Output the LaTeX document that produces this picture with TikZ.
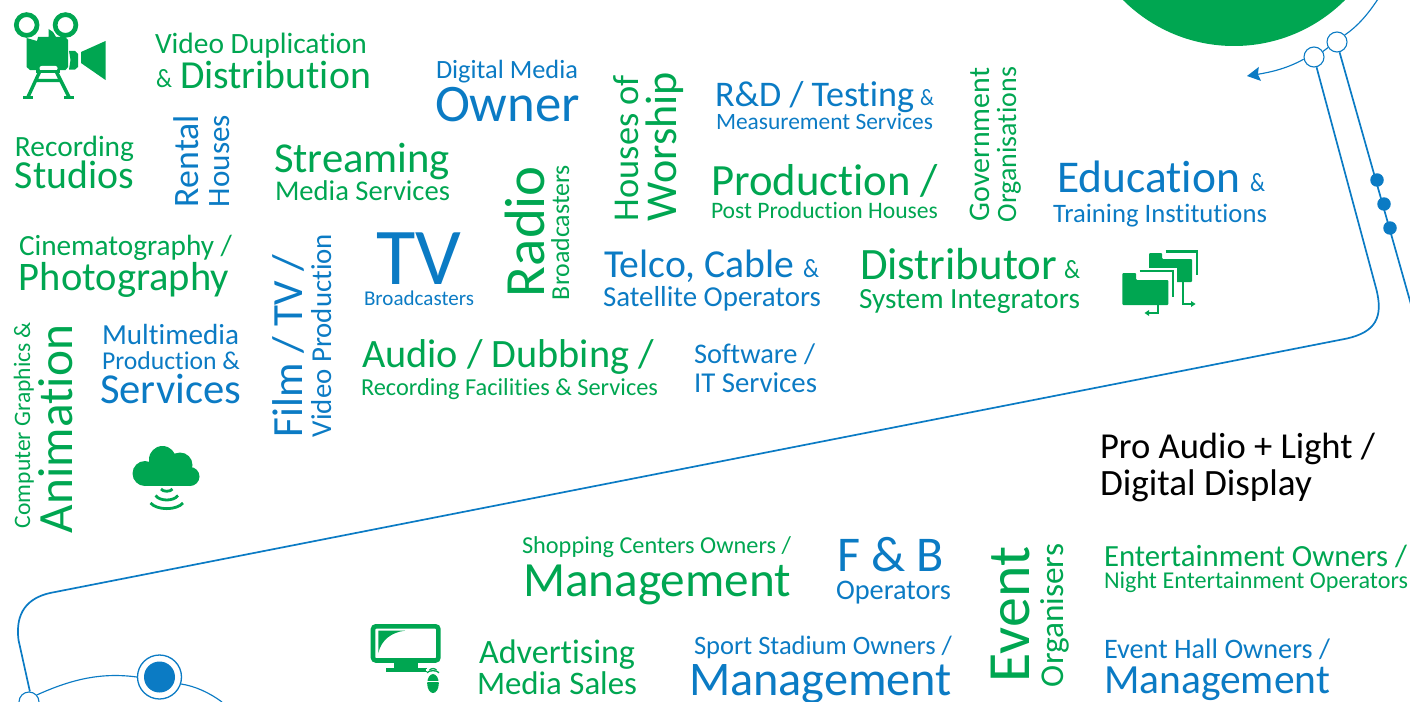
\documentclass[tikz,border=0pt]{standalone}
\usepackage{fontspec}
\usepackage{graphicx}
\setmainfont[Ligatures=NoCommon]{Carlito}
\usetikzlibrary{arrows.meta}
\definecolor{gr}{HTML}{00A651}
\definecolor{bl}{HTML}{0B7BC4}
\newcommand\wt[2]{\resizebox{#1pt}{!}{\fontsize{20}{24}\selectfont #2}}
\newcommand\amp[2]{\resizebox{#1pt}{#2pt}{\fontsize{20}{24}\selectfont \&}}
\tikzset{
 tx/.style={inner sep=0pt,outer sep=0pt,anchor=base west},
 g/.style={tx,text=gr},
 b/.style={tx,text=bl},
 k/.style={tx,text=black},
 up/.style={rotate=90},
 pl/.style={draw=bl,line width=1.7pt},
 thin line/.style={draw=bl,line width=1.15pt},
 hole/.style={circle,draw=bl,fill=white,line width=1.1pt,minimum size=20pt,inner sep=0pt},
 dot/.style={circle,fill=bl,minimum size=13.5pt,inner sep=0pt},
 ic/.style={fill=gr,draw=none},
 icl/.style={draw=gr,line width=2.4pt,fill=none},
}
\begin{document}
\begin{tikzpicture}[x=1pt,y=-1pt]
\useasboundingbox (0,0) rectangle (1410,701);
\clip (0,0) rectangle (1410,701);
% green disc
\node[circle,fill=gr,minimum size=314pt,inner sep=0pt] (disc) at (1234,-111) {};
% connectors and hubs
\node[hole] (c1) at (1314,57) {};
\node[hole] (c2) at (1337,42) {};
\node[hole] (c3) at (29,702) {};
\node[circle,draw=bl,fill=white,line width=1.3pt,minimum size=44pt,inner sep=0pt] (c4) at (159.5,677) {};
\node[dot,minimum size=31pt] (c4i) at (159.5,677) {};
\coordinate (e1) at (1378,-1);
\coordinate (e2) at (1412,308);
\coordinate (e3) at (1247,76);
\coordinate (e4) at (222,702);
\draw[pl] (c1.-76) -- (1376,288) .. controls (1384,318) and (1375,332) .. (1347,338.5) -- (50,593) .. controls (28,598) and (15,612) .. (18.5,640) -- (c3.85);
\draw[pl] (c2.-76) -- (e2);
\draw[thin line] (c1.32) -- (c2.212);
\draw[thin line] (c2.42) .. controls (1358,26) and (1368,14) .. (e1);
\draw[thin line,-{Stealth[length=13pt,width=14pt,inset=2pt]}] (c1.192) .. controls (1288,68) and (1272,72) .. (e3);
\draw[thin line] (c3.42) .. controls (70,680) and (100,672) .. (c4.west);
\draw[thin line] (c4.-18) .. controls (195,686) and (210,693) .. (e4);
\node[dot] (d1) at (1377,180) {};
\node[dot] (d2) at (1384,204) {};
\node[dot] (d3) at (1390,228) {};
% camera icon
\draw[draw=gr,line width=4.7pt] (26.7,25) circle[radius=10.4] (65.5,25) circle[radius=10.4];
\fill[ic] (26.5,38) -- (37,41) -- (38,37) -- (48.5,37) -- (48.5,29) -- (53,32) -- (56,37) -- (65,37) -- (68,40) -- (68,67) -- (65.5,70) -- (30,70) -- (26.5,67) -- cycle;
\fill[ic] (69,51) -- (75,51) -- (78,54) -- (78,67) -- (75,69.5) -- (69,69.5) -- (70.5,60) -- cycle;
\fill[ic] (81,52) -- (105.5,41) -- (105.5,80) -- (81,63) -- cycle;
\fill[white,rounded corners=2pt] (39.5,66) rectangle (57.5,70.5);
\fill[ic] (36,70) -- (60,70) -- (60,72.5) -- (36,72.5) -- cycle;
\draw[icl,line width=3.4pt] (40,71) -- (27.5,98) (56,71) -- (69.5,98) (35,80.5) -- (61,80.5);
\draw[icl,line width=2.8pt] (23,97.5) -- (33,97.5) (64,97.5) -- (73.5,97.5);
% folders icon
\draw[icl,line width=2.6pt] (1165.5,251.5) -- (1196.8,251.5) -- (1196.8,275);
\fill[ic,rounded corners=1pt] (1149,253) -- (1162,253) -- (1162,259) -- (1192,259) -- (1192,282) -- (1149,282) -- cycle;
\draw[icl,line width=2.6pt] (1183,282) -- (1183,304) -- (1192,304);
\fill[ic] (1191,301) -- (1195.5,304) -- (1191,307) -- cycle;
\fill[white] (1135,268) -- (1177,268) -- (1177,300) -- (1135,300) -- cycle;
\draw[icl,line width=2.6pt] (1139.5,271) -- (1173,271) -- (1173,297);
\fill[ic,rounded corners=1pt] (1122.3,273) -- (1136,273) -- (1136,280) -- (1168.3,280) -- (1168.3,305) -- (1122.3,305) -- cycle;
\draw[icl,line width=2.6pt] (1158,305) -- (1158,313) -- (1148,313);
\fill[ic] (1149,310) -- (1144.5,313) -- (1149,316) -- cycle;
% cloud icon
\fill[ic] (145,473.5) circle[radius=12.5] (162.5,459.5) circle[radius=13.5] (180,465) circle[radius=12.5] (190,476.5) circle[radius=9.5];
\fill[ic] (145,468) rectangle (190,486);
\draw[icl,line width=2.8pt] (161,489) .. controls (163,492) and (170.5,492) .. (172.5,489);
\draw[icl,line width=2.8pt] (155.5,495.5) .. controls (160,501.5) and (173.5,501.5) .. (178,495.5);
\draw[icl,line width=2.8pt] (150.5,503) .. controls (157,510.5) and (176.5,510.5) .. (183,503);
% monitor icon
\draw[draw=gr,line width=4.6pt,rounded corners=3pt] (373,626.3) rectangle (438.4,660.5);
\fill[ic] (378.3,630.7) -- (405,630.7) .. controls (392,632) and (381,640) .. (378.3,653) -- cycle;
\fill[ic] (394,662) rectangle (418,668);
\fill[ic] (386,668) rectangle (427,671.5);
\draw[white,line width=1.5pt] (425.5,670) -- (441,670);
\draw[icl,line width=1.3pt] (429.5,670.2) .. controls (431,668) and (435,668) .. (436.5,670.2);
\draw[icl,line width=1.3pt] (427,672.7) .. controls (429,670) and (437,670) .. (439,672.7);
\fill[ic] (433,683.5) ellipse[x radius=5.8,y radius=9.5];
\draw[white,line width=0.9pt] (427,681.5) -- (439,681.5);
% texts left group
\node[g] (t1) at (155,54) {\wt{212}{Video Duplication}};
\node[g] (t2) at (156,88) {\amp{16}{18}};
\node[g] (t3) at (180,88) {\wt{191}{Distribution}};
\node[g] (t4) at (15,156) {\wt{119}{Recording}};
\node[g] (t5) at (15,188) {\wt{119}{Studios}};
\node[b,up] (t6) at (198,207) {\wt{92}{Rental}};
\node[b,up] (t7) at (229,207) {\wt{92}{Houses}};
\node[g] (t8) at (274,172) {\wt{176}{Streaming}};
\node[g] (t9) at (275,200) {\wt{175}{Media Services}};
\node[g] (t10) at (19,255) {\wt{213}{Cinematography /}};
\node[g] (t11) at (19,290) {\wt{210}{Photography}};
\node[b] (t12) at (102,344) {\wt{137}{Multimedia}};
\node[b] (t13) at (102,369) {\wt{138}{Production \&}};
\node[b] (t14) at (100,403) {\wt{141}{Services}};
\node[g,up] (t15) at (30,528) {\wt{206}{Computer Graphics \&}};
\node[g,up] (t16) at (72,533) {\wt{208}{Animation}};
\node[b,up] (t17) at (302,437) {\wt{182}{Film / TV /}};
\node[b,up] (t18) at (331,437) {\wt{203}{Video Production}};
\node[b] (t19) at (376,284) {\wt{85}{TV}};
\node[b] (t20) at (364,305) {\wt{110}{Broadcasters}};
\node[g] (t21) at (362,367) {\wt{292}{Audio / Dubbing /}};
\node[g] (t22) at (361,395) {\wt{297}{Recording Facilities \& Services}};
% middle group
\node[b] (t23) at (436,78) {\wt{142}{Digital Media}};
\node[b] (t24) at (435,121) {\wt{145}{Owner}};
\node[g,up] (t25) at (544,297) {\wt{131}{Radio}};
\node[g,up] (t26) at (569,300) {\wt{135}{Broadcasters}};
\node[g,up] (t27) at (638,221) {\wt{146}{Houses of}};
\node[g,up] (t28) at (676,221) {\wt{149}{Worship}};
\node[b] (t29) at (715,106) {\wt{199}{R\&D / Testing}};
\node[b] (t30) at (920,105) {\amp{14}{16}};
\node[b] (t31) at (716,129) {\wt{217}{Measurement Services}};
\node[g] (t32) at (711,195) {\wt{227}{Production /}};
\node[g] (t33) at (711,218) {\wt{227}{Post Production Houses}};
\node[g,up] (t34) at (989,221) {\wt{153}{Government}};
\node[g,up] (t35) at (1016,222) {\wt{155}{Organisations}};
\node[b] (t36) at (1057,192) {\wt{183}{Education}};
\node[b] (t37) at (1250,191) {\amp{15}{18}};
\node[b] (t38) at (1053,222) {\wt{214}{Training Institutions}};
\node[b] (t39) at (604,277) {\wt{190}{Telco, Cable}};
\node[b] (t40) at (803,277) {\amp{16}{18}};
\node[b] (t41) at (603,306) {\wt{218}{Satellite Operators}};
\node[g] (t42) at (860,279) {\wt{197}{Distributor}};
\node[g] (t43) at (1064,278) {\amp{16}{18}};
\node[g] (t44) at (859,308) {\wt{221}{System Integrators}};
\node[b] (t45) at (694,363) {\wt{121}{Software /}};
\node[b] (t46) at (694,392) {\wt{123}{IT Services}};
% lower group
\node[k] (t47) at (1100,458) {\wt{275}{Pro Audio + Light /}};
\node[k] (t48) at (1100,495) {\wt{212}{Digital Display}};
\node[g] (t49) at (522,553) {\wt{269}{Shopping Centers Owners /}};
\node[g] (t50) at (523,596) {\wt{268}{Management}};
\node[b] (t51) at (837,571) {\wt{107}{F \& B}};
\node[b] (t52) at (836,599) {\wt{115}{Operators}};
\node[g,up] (t53) at (1029,682) {\wt{135}{Event}};
\node[g,up] (t54) at (1063,687) {\wt{143}{Organisers}};
\node[g] (t55) at (1104,566) {\wt{303}{Entertainment Owners /}};
\node[g] (t56) at (1104,588) {\wt{304}{Night Entertainment Operators}};
\node[g] (t57) at (479,663) {\wt{156}{Advertising}};
\node[g] (t58) at (477,694) {\wt{160}{Media Sales}};
\node[b] (t59) at (694,654) {\wt{258}{Sport Stadium Owners /}};
\node[b] (t60) at (689,695) {\wt{263}{Management}};
\node[b] (t61) at (1104,658) {\wt{226}{Event Hall Owners /}};
\node[b] (t62) at (1104,693) {\wt{226}{Management}};
\end{tikzpicture}
\end{document}
